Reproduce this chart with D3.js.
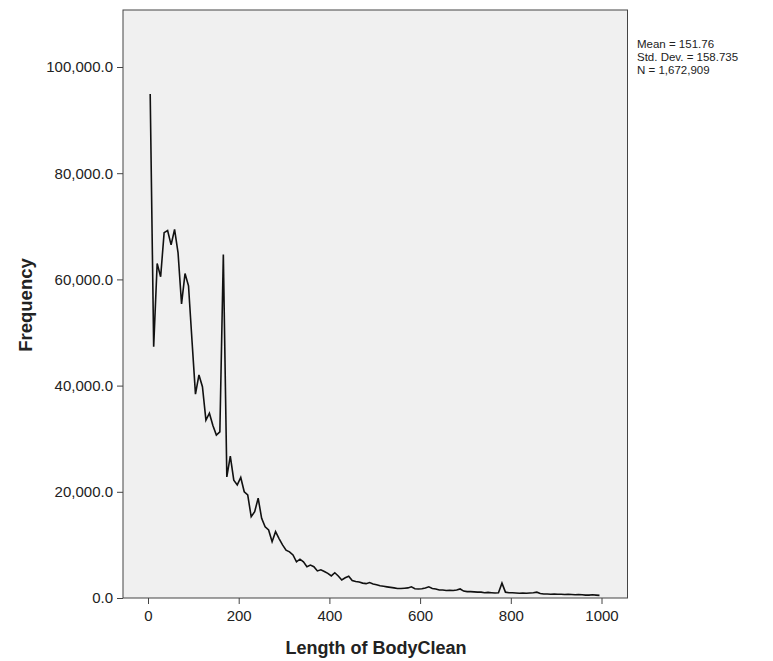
<!DOCTYPE html>
<html>
<head>
<meta charset="utf-8">
<script src="https://cdn.jsdelivr.net/npm/d3@7"></script>
<style>
  html, body { margin: 0; padding: 0; background: #ffffff; }
  svg { display: block; font-family: "Liberation Sans", Arial, sans-serif; }
</style>
</head>
<body>
<svg id="chart" width="773" height="661"></svg>
<script>
// ---- data ----
const binStart = 1;          // lowest length
const binWidth = 7.68;       // width of each histogram bin
const frequencies = [
  94900, 47300, 63000, 60500, 68800, 69200, 66500, 69400, 65000, 55400,
  61100, 58800, 48500, 38400, 42000, 39800, 33500, 34800, 32500, 30700,
  31300, 64700, 22800, 26700, 22200, 21300, 22700, 20000, 19400, 15300,
  16250, 18800, 15000, 13400, 12800, 10600, 12500, 11200, 10000, 9000,
  8700, 8100, 6800, 7300, 6800, 5900, 6200, 5900, 5100, 5300,
  5000, 4650, 4150, 4750, 4150, 3400, 3800, 4100, 3300, 3100,
  3000, 2800, 2700, 2900, 2650, 2500, 2300, 2200, 2100, 2000,
  1900, 1800, 1800, 1850, 1900, 2100, 1750, 1700, 1750, 1900,
  2100, 1800, 1700, 1500, 1500, 1400, 1450, 1400, 1500, 1700,
  1300, 1200, 1200, 1150, 1100, 1100, 1000, 1050, 1000, 950,
  1000, 2800, 1100, 1000, 1000, 950, 900, 950, 900, 950,
  1000, 1100, 850, 750, 750, 700, 750, 700, 700, 650,
  700, 650, 600, 650, 600, 550, 550, 600, 550, 500
];
const xTicks = [0, 200, 400, 600, 800, 1000];
const yTicks = [0, 20000, 40000, 60000, 80000, 100000];
const statLines = ["Mean = 151.76", "Std. Dev. = 158.735", "N = 1,672,909"];
const xTitle = "Length of BodyClean";
const yTitle = "Frequency";

const points = frequencies.map((f, i) => ({ x: binStart + binWidth * (i + 0.5), y: f }));

// ---- layout ----
const svg = d3.select("#chart");
const plot = { left: 123, right: 627.5, top: 10, bottom: 598 };

const x = d3.scaleLinear().domain([0, 1000]).range([148, 601.5]);
const y = d3.scaleLinear().domain([0, 100000]).range([plot.bottom, 67]);

// plot background
svg.append("rect")
  .attr("x", plot.left).attr("y", plot.top)
  .attr("width", plot.right - plot.left).attr("height", plot.bottom - plot.top)
  .attr("fill", "#f0f0f0").attr("stroke", "#444").attr("stroke-width", 1);

// y axis
const yAxis = d3.axisLeft(y).tickValues(yTicks).tickSize(6).tickPadding(4)
  .tickFormat(d => d3.format(",.1f")(d));
const gy = svg.append("g").attr("transform", `translate(${plot.left},0)`).call(yAxis);
gy.select(".domain").remove();
gy.selectAll("line").attr("stroke", "#444");
gy.selectAll("text").attr("font-size", "15px").attr("fill", "#222")
  .attr("font-family", "'Liberation Sans', Arial, sans-serif");

// x axis
const xAxis = d3.axisBottom(x).tickValues(xTicks).tickSize(6).tickPadding(6)
  .tickFormat(d3.format("d"));
const gx = svg.append("g").attr("transform", `translate(0,${plot.bottom})`).call(xAxis);
gx.select(".domain").remove();
gx.selectAll("line").attr("stroke", "#444");
gx.selectAll("text").attr("font-size", "15px").attr("fill", "#222")
  .attr("font-family", "'Liberation Sans', Arial, sans-serif");

// frequency polygon
const line = d3.line().x(d => x(d.x)).y(d => y(d.y));
svg.append("path").datum(points)
  .attr("d", line)
  .attr("fill", "none").attr("stroke", "#111").attr("stroke-width", 1.6)
  .attr("stroke-linejoin", "miter");

// titles
svg.append("text")
  .attr("x", 376).attr("y", 654)
  .attr("text-anchor", "middle")
  .attr("font-size", "18px").attr("font-weight", "bold").attr("fill", "#222")
  .text(xTitle);

svg.append("text")
  .attr("transform", "translate(32,305) rotate(-90)")
  .attr("text-anchor", "middle")
  .attr("font-size", "18.5px").attr("font-weight", "bold").attr("fill", "#222")
  .text(yTitle);

// statistics box text
svg.append("g").selectAll("text").data(statLines).join("text")
  .attr("x", 637).attr("y", (d, i) => 47.5 + i * 13)
  .attr("font-size", "11.5px").attr("fill", "#222")
  .text(d => d);
</script>
</body>
</html>
